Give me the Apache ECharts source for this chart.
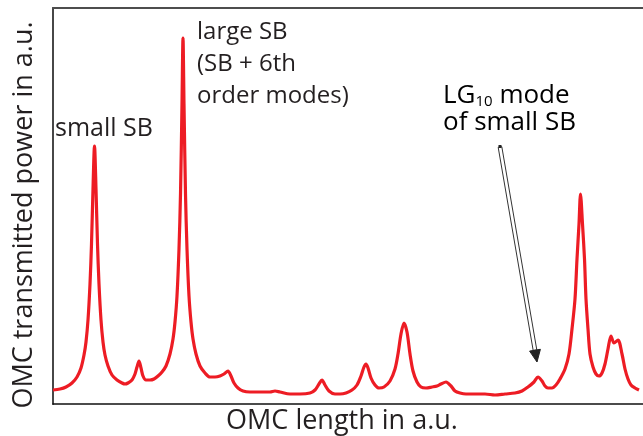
<!DOCTYPE html>
<html>
<head>
<meta charset="utf-8">
<script src="https://cdn.jsdelivr.net/npm/echarts@6/dist/echarts.min.js"></script>
<style>
html,body{margin:0;padding:0;background:#fff;}
#chart{width:643px;height:436px;}
</style>
</head>
<body>
<div id="chart"></div>
<script>
// OMC length (a.u.) sample positions
const omcLength = [
  0, 7, 13, 19, 24, 28, 31, 33, 35, 37, 38.5, 40, 41.5, 43, 44.5, 46, 48, 50, 52, 55, 59, 64, 69, 72,
  75, 79, 82, 84, 86, 88, 90, 93, 97,
  101, 105, 109, 113, 117, 120, 122, 124, 126, 127.5, 129, 130, 131, 132.5, 134, 136, 138, 140, 143, 147, 152, 157,
  162, 167, 171, 175, 178, 181, 185, 190, 197, 207, 217, 222, 227, 237, 247, 257, 262, 266, 269, 272, 276, 282, 287,
  293, 299, 304, 308, 311, 313, 315, 318, 322, 326, 331, 337, 342, 345, 348, 351, 354, 357, 360, 364, 368, 373, 379,
  384, 388, 393, 398, 402, 407, 413, 422, 432, 442, 452, 462, 469, 475, 481, 485, 489, 492, 495, 499, 503,
  507, 512, 516, 519, 522, 524, 526, 527.5, 529.5, 531.5, 533, 535, 537, 540, 543, 546, 549, 552, 555, 558, 561,
  565, 569, 572, 575, 578, 582, 586, 590
];
// OMC transmitted power (a.u.)
const omcPower = [
  14, 15, 17, 21, 27, 36, 49, 62, 84, 120, 160, 215, 258, 215, 160, 120, 84, 62, 49, 38, 29, 24, 21, 20,
  21, 24, 30, 37, 43, 36, 28, 24, 24,
  25, 28, 32, 38, 50, 65, 82, 108, 155, 210, 300, 366, 300, 210, 155, 108, 82, 65, 50, 38, 31, 27,
  27, 28, 30, 33, 28, 21, 16, 13, 12, 12, 12, 13, 12, 10, 10, 11, 14, 20, 24, 19, 13, 10, 10,
  11, 14, 19, 28, 37, 40, 36, 26, 19, 16, 17, 23, 35, 50, 70, 81, 72, 50, 33, 22, 17, 16,
  17, 18, 20, 22, 18, 13, 11, 10, 10, 10, 9, 10, 11, 13, 17, 22, 27, 23, 18, 16, 16,
  19, 25, 35, 50, 75, 105, 145, 180, 210, 180, 145, 105, 75, 50, 37, 30, 28, 31, 40, 55, 68,
  61, 64, 50, 35, 25, 19, 16, 14
];

const xLabel = 'OMC length in a.u.';
const yLabel = 'OMC transmitted power in a.u.';
const annSmall = 'small SB';
const annLarge = ['large SB', '(SB + 6th', 'order modes)'];
const annLG = ['{n|LG}{s|10}{n| mode}', '{n|of small SB}'];

const pts = omcLength.map((x, i) => [x, omcPower[i]]);
const FONT = '"Open Sans", sans-serif';
const TXT = '#231f20';

const chart = echarts.init(document.getElementById('chart'), null, {renderer: 'canvas'});
chart.setOption({
  animation: false,
  backgroundColor: '#fff',
  grid: {left: 53, right: 0, top: 8, bottom: 32},
  xAxis: [
    {type: 'value', min: 0, max: 590, position: 'bottom',
     axisLine: {show: true, onZero: false, lineStyle: {color: '#111', width: 1.5}},
     axisTick: {show: false}, axisLabel: {show: false}, splitLine: {show: false}},
    {type: 'value', min: 0, max: 590, position: 'top',
     axisLine: {show: true, onZero: false, lineStyle: {color: '#4d4d4d', width: 2}},
     axisTick: {show: false}, axisLabel: {show: false}, splitLine: {show: false}}
  ],
  yAxis: {type: 'value', min: 0, max: 396,
    axisLine: {show: true, onZero: false, lineStyle: {color: '#333', width: 1.8}},
    axisTick: {show: false}, axisLabel: {show: false}, splitLine: {show: false}},
  series: [{
    type: 'line', data: pts, showSymbol: false, smooth: 0.3,
    lineStyle: {color: '#ed1c24', width: 3.2}, z: 3
  }],
  graphic: [
    {type: 'text', x: 342, y: 421, style: {text: xLabel, align: 'center', verticalAlign: 'middle', font: '27px ' + FONT, fill: TXT}},
    {type: 'text', x: 24, y: 215, rotation: Math.PI / 2, style: {text: yLabel, x: 0, y: 0, align: 'center', verticalAlign: 'middle', font: '27px ' + FONT, fill: TXT}},
    {type: 'text', x: 55, y: 116, style: {text: annSmall, align: 'left', verticalAlign: 'top', font: '25px ' + FONT, fill: TXT}},
    {type: 'text', x: 197, y: 20.5, style: {text: annLarge[0], verticalAlign: 'top', font: '24px ' + FONT, fill: TXT}},
    {type: 'text', x: 197, y: 52.5, style: {text: annLarge[1], verticalAlign: 'top', font: '24px ' + FONT, fill: TXT}},
    {type: 'text', x: 197, y: 84.5, style: {text: annLarge[2], verticalAlign: 'top', font: '24px ' + FONT, fill: TXT}},
    {type: 'text', x: 443, y: 79, style: {text: annLG[0], rich: {
        n: {fontSize: 26, fontFamily: FONT, color: TXT, verticalAlign: 'bottom', lineHeight: 30},
        s: {fontSize: 15, fontFamily: FONT, color: TXT, verticalAlign: 'bottom', lineHeight: 22}}}},
    {type: 'text', x: 443, y: 108, style: {text: annLG[1], rich: {
        n: {fontSize: 26, fontFamily: FONT, color: TXT, lineHeight: 30}}}},
    {type: 'polygon', z: 10, shape: {points: [[501.8, 146.7], [498.2, 147.3], [533.2, 350.5], [536.8, 349.9]]},
     style: {fill: '#fff', stroke: '#333', lineWidth: 1}},
    {type: 'polygon', z: 11, shape: {points: [[537, 362], [529.6, 351.1], [540.4, 349.3]]},
     style: {fill: '#222', stroke: '#222', lineWidth: 1}},
    {type: 'rect', z: 11, shape: {x: 498.5, y: 145, width: 3, height: 3}, style: {fill: '#222'}}
  ]
});
</script>
</body>
</html>
